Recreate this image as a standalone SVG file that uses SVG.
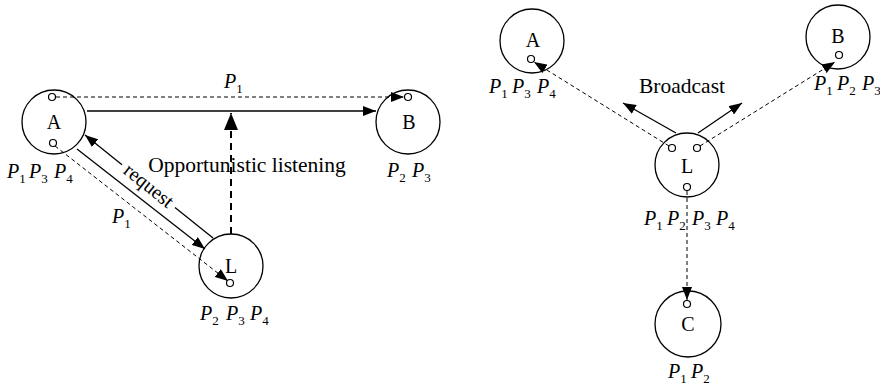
<svg xmlns="http://www.w3.org/2000/svg" width="880" height="387" viewBox="0 0 880 387">
  <style>
    .node { fill: none; stroke: #000; stroke-width: 1.3; }
    .port { fill: #fff; stroke: #000; stroke-width: 1.2; }
    .name { font-family: "Liberation Serif", "Times New Roman", serif; font-size: 20px; text-anchor: middle; fill: #000; }
    .cap { font-family: "Liberation Serif", "Times New Roman", serif; font-size: 21.5px; text-anchor: middle; fill: #000; }
    .lbl { font-family: "Liberation Serif", "Times New Roman", serif; font-size: 20px; fill: #000; }
    .lbl .p { font-style: italic; }
    .lbl .s { font-size: 13px; font-style: normal; }
    .solid { stroke: #000; stroke-width: 1.3; fill: none; }
    .dash { stroke: #000; stroke-width: 1; fill: none; stroke-dasharray: 4 3; }
    .bigdash { stroke: #000; stroke-width: 2; fill: none; stroke-dasharray: 7 5; }
  </style>
  <defs>
    <marker id="arrow" markerUnits="userSpaceOnUse" markerWidth="14" markerHeight="10" refX="13" refY="5" orient="auto">
      <path d="M0,0 L13,5 L0,10 Z" fill="#000"/>
    </marker>
    <marker id="arrowBig" markerUnits="userSpaceOnUse" markerWidth="18" markerHeight="14" refX="17" refY="7" orient="auto">
      <path d="M0,0 L17,7 L0,14 Z" fill="#000"/>
    </marker>
  </defs>

  <!-- links -->
  <g id="connectors">
    <!-- left: A/B/L exchange -->
    <line class="dash" x1="56" y1="97" x2="404" y2="97" marker-end="url(#arrow)"/>
    <line class="solid" x1="87" y1="111" x2="376" y2="111" marker-end="url(#arrow)"/>
    <line class="bigdash" x1="231" y1="234" x2="231" y2="113" marker-end="url(#arrowBig)"/>
    <line class="solid" x1="122" y1="164.8" x2="85" y2="135" marker-end="url(#arrow)"/>
    <line class="solid" x1="213" y1="238" x2="175" y2="207.4"/>
    <line class="solid" x1="77" y1="149" x2="205" y2="249" marker-end="url(#arrow)"/>
    <line class="dash" x1="55" y1="146" x2="228" y2="281" marker-end="url(#arrow)"/>
    <!-- right: broadcast from L -->
    <line class="solid" x1="676" y1="133" x2="623" y2="103" marker-end="url(#arrow)"/>
    <line class="solid" x1="698" y1="133" x2="742" y2="103" marker-end="url(#arrow)"/>
    <line class="dash" x1="669" y1="146" x2="534" y2="62" marker-end="url(#arrow)"/>
    <line class="dash" x1="700" y1="146" x2="835" y2="62" marker-end="url(#arrow)"/>
    <line class="dash" x1="687" y1="191" x2="687" y2="300" marker-end="url(#arrow)"/>
  </g>

  <!-- left panel nodes -->
  <g id="left-A">
    <circle class="node" cx="54" cy="122" r="32"/>
    <circle class="port" cx="52" cy="97" r="3.5"/>
    <circle class="port" cx="53" cy="143" r="3.5"/>
    <text class="name" x="54" y="129">A</text>
    <text class="lbl" y="178"><tspan class="p" x="7">P</tspan><tspan class="s" dy="5">1</tspan><tspan class="p" x="29" dy="-5">P</tspan><tspan class="s" dy="5">3</tspan><tspan class="p" x="54" dy="-5">P</tspan><tspan class="s" dy="5">4</tspan></text>
  </g>
  <g id="left-B">
    <circle class="node" cx="408" cy="122" r="32"/>
    <circle class="port" cx="408" cy="97" r="3.5"/>
    <text class="name" x="409" y="129">B</text>
    <text class="lbl" y="177"><tspan class="p" x="387">P</tspan><tspan class="s" dy="5">2</tspan><tspan class="p" x="412" dy="-5">P</tspan><tspan class="s" dy="5">3</tspan></text>
  </g>
  <g id="left-L">
    <circle class="node" cx="231" cy="266" r="32"/>
    <circle class="port" cx="230" cy="283" r="3.5"/>
    <text class="name" x="231" y="273">L</text>
    <text class="lbl" y="320"><tspan class="p" x="200">P</tspan><tspan class="s" dy="5">2</tspan><tspan class="p" x="226" dy="-5">P</tspan><tspan class="s" dy="5">3</tspan><tspan class="p" x="250" dy="-5">P</tspan><tspan class="s" dy="5">4</tspan></text>
  </g>

  <!-- left panel link labels -->
  <g id="left-labels">
    <text class="lbl" y="88"><tspan class="p" x="224">P</tspan><tspan class="s" dy="5">1</tspan></text>
    <text class="lbl" y="223"><tspan class="p" x="112">P</tspan><tspan class="s" dy="5">1</tspan></text>
    <text class="cap" x="247" y="172">Opportunistic listening</text>
    <text class="name" transform="translate(148.5,186) rotate(38.8)" y="6">request</text>
  </g>

  <!-- right panel nodes -->
  <g id="right-A">
    <circle class="node" cx="532" cy="41" r="32"/>
    <circle class="port" cx="531" cy="59" r="3.5"/>
    <text class="name" x="533" y="47">A</text>
    <text class="lbl" y="93"><tspan class="p" x="489">P</tspan><tspan class="s" dy="5">1</tspan><tspan class="p" x="512" dy="-5">P</tspan><tspan class="s" dy="5">3</tspan><tspan class="p" x="537" dy="-5">P</tspan><tspan class="s" dy="5">4</tspan></text>
  </g>
  <g id="right-B">
    <circle class="node" cx="838" cy="37" r="32"/>
    <circle class="port" cx="839" cy="55" r="3.5"/>
    <text class="name" x="838" y="43">B</text>
    <text class="lbl" y="90"><tspan class="p" x="814">P</tspan><tspan class="s" dy="5">1</tspan><tspan class="p" x="837" dy="-5">P</tspan><tspan class="s" dy="5">2</tspan><tspan class="p" x="862" dy="-5">P</tspan><tspan class="s" dy="5">3</tspan></text>
  </g>
  <g id="right-L">
    <circle class="node" cx="687" cy="165" r="32"/>
    <circle class="port" cx="672" cy="148" r="3.5"/>
    <circle class="port" cx="697" cy="148" r="3.5"/>
    <circle class="port" cx="687" cy="187" r="3.5"/>
    <text class="name" x="687" y="173">L</text>
    <text class="lbl" y="225"><tspan class="p" x="644">P</tspan><tspan class="s" dy="5">1</tspan><tspan class="p" x="667" dy="-5">P</tspan><tspan class="s" dy="5">2</tspan><tspan class="p" x="692" dy="-5">P</tspan><tspan class="s" dy="5">3</tspan><tspan class="p" x="716" dy="-5">P</tspan><tspan class="s" dy="5">4</tspan></text>
  </g>
  <g id="right-C">
    <circle class="node" cx="688" cy="324" r="33"/>
    <circle class="port" cx="687" cy="304" r="3.5"/>
    <text class="name" x="688" y="331">C</text>
    <text class="lbl" y="378"><tspan class="p" x="668">P</tspan><tspan class="s" dy="5">1</tspan><tspan class="p" x="691" dy="-5">P</tspan><tspan class="s" dy="5">2</tspan></text>
  </g>
  <g id="right-labels">
    <text class="cap" x="682" y="93">Broadcast</text>
  </g>
</svg>
